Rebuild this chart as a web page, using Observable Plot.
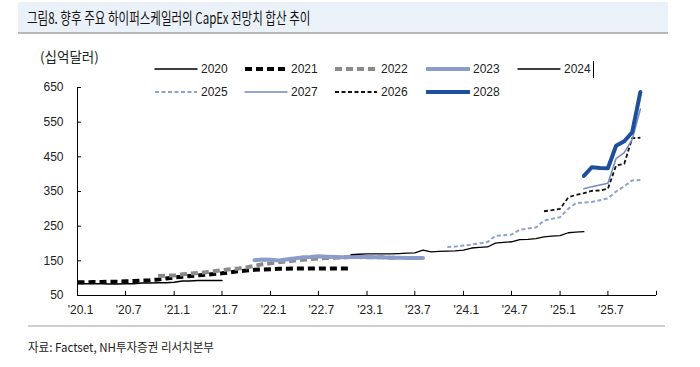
<!DOCTYPE html>
<html><head><meta charset="utf-8">
<script src="https://cdn.jsdelivr.net/npm/d3@7"></script>
<script src="https://cdn.jsdelivr.net/npm/@observablehq/plot@0.6"></script>
<style>
body{margin:0;width:700px;height:367px;background:#fff;position:relative;overflow:hidden;font-family:"Liberation Sans",Arial,sans-serif;color:#222}
#titlebar{position:absolute;left:18px;top:2px;width:650px;height:30px;background:#ebf1f9;border-bottom:2px solid #b8b8b8}
#title{position:absolute;left:9px;top:5px;font-family:"Noto Sans CJK KR";font-size:16px;line-height:20px;color:#111;transform:scaleX(0.72);transform-origin:left center;white-space:nowrap}
#unit{position:absolute;left:40px;top:48px;font-family:"Noto Sans CJK KR";font-size:13.5px;line-height:17px;color:#222;white-space:nowrap}
#chart{position:absolute;left:0;top:78px}
#legend{position:absolute;left:0;top:0}
.item{position:absolute;height:16px;display:flex;align-items:center;font-size:12px;white-space:nowrap}
.item svg{margin-right:3px}
#sep{position:absolute;left:28px;top:325px;width:637px;height:2px;background:#cfcfcf}
#caption{position:absolute;left:28px;top:339px;font-family:"Noto Sans CJK KR";font-size:12px;line-height:16px;color:#222;white-space:nowrap;transform:scaleX(0.96);transform-origin:left center}
#cursor{position:absolute;left:593px;top:61px;width:1px;height:17px;background:#000}
</style></head>
<body>
<div id="titlebar"><div id="title">그림8. 향후 주요 하이퍼스케일러의 CapEx 전망치 합산 추이</div></div>
<div id="unit">(십억달러)</div>
<div id="chart"></div>
<div id="legend"></div>
<div id="cursor"></div>
<div id="sep"></div>
<div id="caption">자료: Factset, NH투자증권 리서치본부</div>
<script>
// ---- data ----
const seriesNames = ["2020","2021","2022","2023","2024","2025","2026","2027","2028"];
const startMonths = ["2020-01","2020-01","2020-11","2021-11","2022-11","2023-11","2024-11","2025-04","2025-04"];
const v2020 = [84,84,84,84,83,83,84,84,86,86,87,87,88,92,92,93,93,93,93];
const v2021 = [88,88,89,89,90,90,91,92,93,94,96,99,102,104,106,108,110,112,114,117,120,122,124,125,126,127,127,128,128,128,128,128,128,128,128];
const v2022 = [106,107,108,111,113,115,117,120,123,126,128,131,136,140,143,146,148,151,153,155,157,158,159,160,161,161,160,160,160,159,159];
const v2023 = [152,154,153,151,154,157,160,161,163,162,161,160,161,162,161,160,160,159,159,158,158,158];
const v2024 = [168,169,170,170,170,170,171,172,173,181,176,177,178,179,181,187,189,190,201,203,205,211,212,214,219,221,223,231,233,234];
const v2025 = [190,191,194,197,200,204,222,224,226,240,243,246,266,271,276,300,316,318,320,325,330,350,365,382,383];
const v2026 = [293,296,300,333,340,345,352,353,358,425,430,504,505];
const v2027 = [358,364,369,374,445,462,500,588];
const v2028 = [395,420,418,417,482,495,521,637];
const yTicks = [50,150,250,350,450,550,650];
const xTickLabels = ["'20.1","'20.7","'21.1","'21.7","'22.1","'22.7","'23.1","'23.7","'24.1","'24.7","'25.1","'25.7"];
const xTickMonths = ["2020-01","2020-07","2021-01","2021-07","2022-01","2022-07","2023-01","2023-07","2024-01","2024-07","2025-01","2025-07","2026-01"];
const legendRow1 = ["2020","2021","2022","2023","2024"];
const legendRow2 = ["2025","2027","2026","2028"];

// ---- styles ----
const styles = {
  "2020": {stroke:"#000", w:1.5, dash:null},
  "2021": {stroke:"#000", w:4, dash:"7,4"},
  "2022": {stroke:"#8a8a8a", w:4, dash:"7,4"},
  "2023": {stroke:"#8a9ccb", w:4, dash:null},
  "2024": {stroke:"#000", w:1.3, dash:null},
  "2025": {stroke:"#8ea2d2", w:2, dash:"4,2.5"},
  "2026": {stroke:"#111", w:1.8, dash:"4,2.5"},
  "2027": {stroke:"#7289c2", w:1.5, dash:null},
  "2028": {stroke:"#1f4f9c", w:4, dash:null}
};

const values = [v2020,v2021,v2022,v2023,v2024,v2025,v2026,v2027,v2028];
const parse = d3.utcParse("%Y-%m");
const rows = [];
seriesNames.forEach((name,i)=>{
  const s = parse(startMonths[i]);
  values[i].forEach((v,j)=>rows.push({series:name, date:d3.utcMonth.offset(s,j), value:v}));
});
const tickDates = xTickMonths.map(parse);
const labelDates = tickDates.slice(0, xTickLabels.length);
const labelMap = new Map(labelDates.map((d,i)=>[+d, xTickLabels[i]]));
const x0 = tickDates[0], x1 = tickDates[tickDates.length-1];
const yMin = yTicks[0], yMax = yTicks[yTicks.length-1];

const marks = [];
marks.push(Plot.ruleY([yMin], {stroke:"#000", strokeWidth:1}));
marks.push(Plot.ruleX([x0], {stroke:"#000", strokeWidth:1}));
// inward tick marks
marks.push(Plot.ruleY(yTicks, {x1:x0, x2:d3.utcDay.offset(x0,15), stroke:"#000", strokeWidth:1}));
marks.push(Plot.ruleX(tickDates, {y1:yMin, y2:yMin+12, stroke:"#000", strokeWidth:1}));
marks.push(Plot.axisY(yTicks, {tickSize:0, tickPadding:14, fontSize:12, fill:"#222", label:null}));
marks.push(Plot.axisX(labelDates, {tickSize:0, tickPadding:10, dx:3, tickFormat:d=>labelMap.get(+d), fontSize:12, fill:"#222", label:null}));
for (const name of seriesNames) {
  const st = styles[name];
  marks.push(Plot.line(rows.filter(r=>r.series===name), {
    x:"date", y:"value", stroke:st.stroke, strokeWidth:st.w,
    strokeDasharray:st.dash, strokeLinecap: st.dash ? "butt" : "round", strokeLinejoin:"round"
  }));
}

const chart = Plot.plot({
  width:700, height:250,
  marginTop:9, marginBottom:33, marginLeft:77, marginRight:44,
  style:{fontFamily:"Liberation Sans, Arial, sans-serif", fontSize:"12px", background:"transparent"},
  x:{type:"utc", domain:[x0,x1], label:null},
  y:{domain:[yMin,yMax], label:null},
  marks
});
document.getElementById("chart").appendChild(chart);

// ---- legend ----
const legend = document.getElementById("legend");
function addItem(name, left, top){
  const st = styles[name];
  const div = document.createElement("div");
  div.className = "item";
  div.style.left = left+"px"; div.style.top = top+"px";
  const ns = "http://www.w3.org/2000/svg";
  const svg = document.createElementNS(ns,"svg");
  svg.setAttribute("width",44); svg.setAttribute("height",10);
  const ln = document.createElementNS(ns,"line");
  ln.setAttribute("x1",1); ln.setAttribute("x2",43); ln.setAttribute("y1",5); ln.setAttribute("y2",5);
  ln.setAttribute("stroke",st.stroke); ln.setAttribute("stroke-width",st.w);
  if (st.dash) ln.setAttribute("stroke-dasharray",st.dash);
  if (!st.dash) ln.setAttribute("stroke-linecap","round");
  svg.appendChild(ln);
  div.appendChild(svg);
  const t = document.createElement("span"); t.textContent = name;
  div.appendChild(t);
  legend.appendChild(div);
}
const colX = [154,244,334,426,517];
legendRow1.forEach((n,i)=>addItem(n, colX[i], 61));
legendRow2.forEach((n,i)=>addItem(n, colX[i], 84));
</script>
</body></html>
